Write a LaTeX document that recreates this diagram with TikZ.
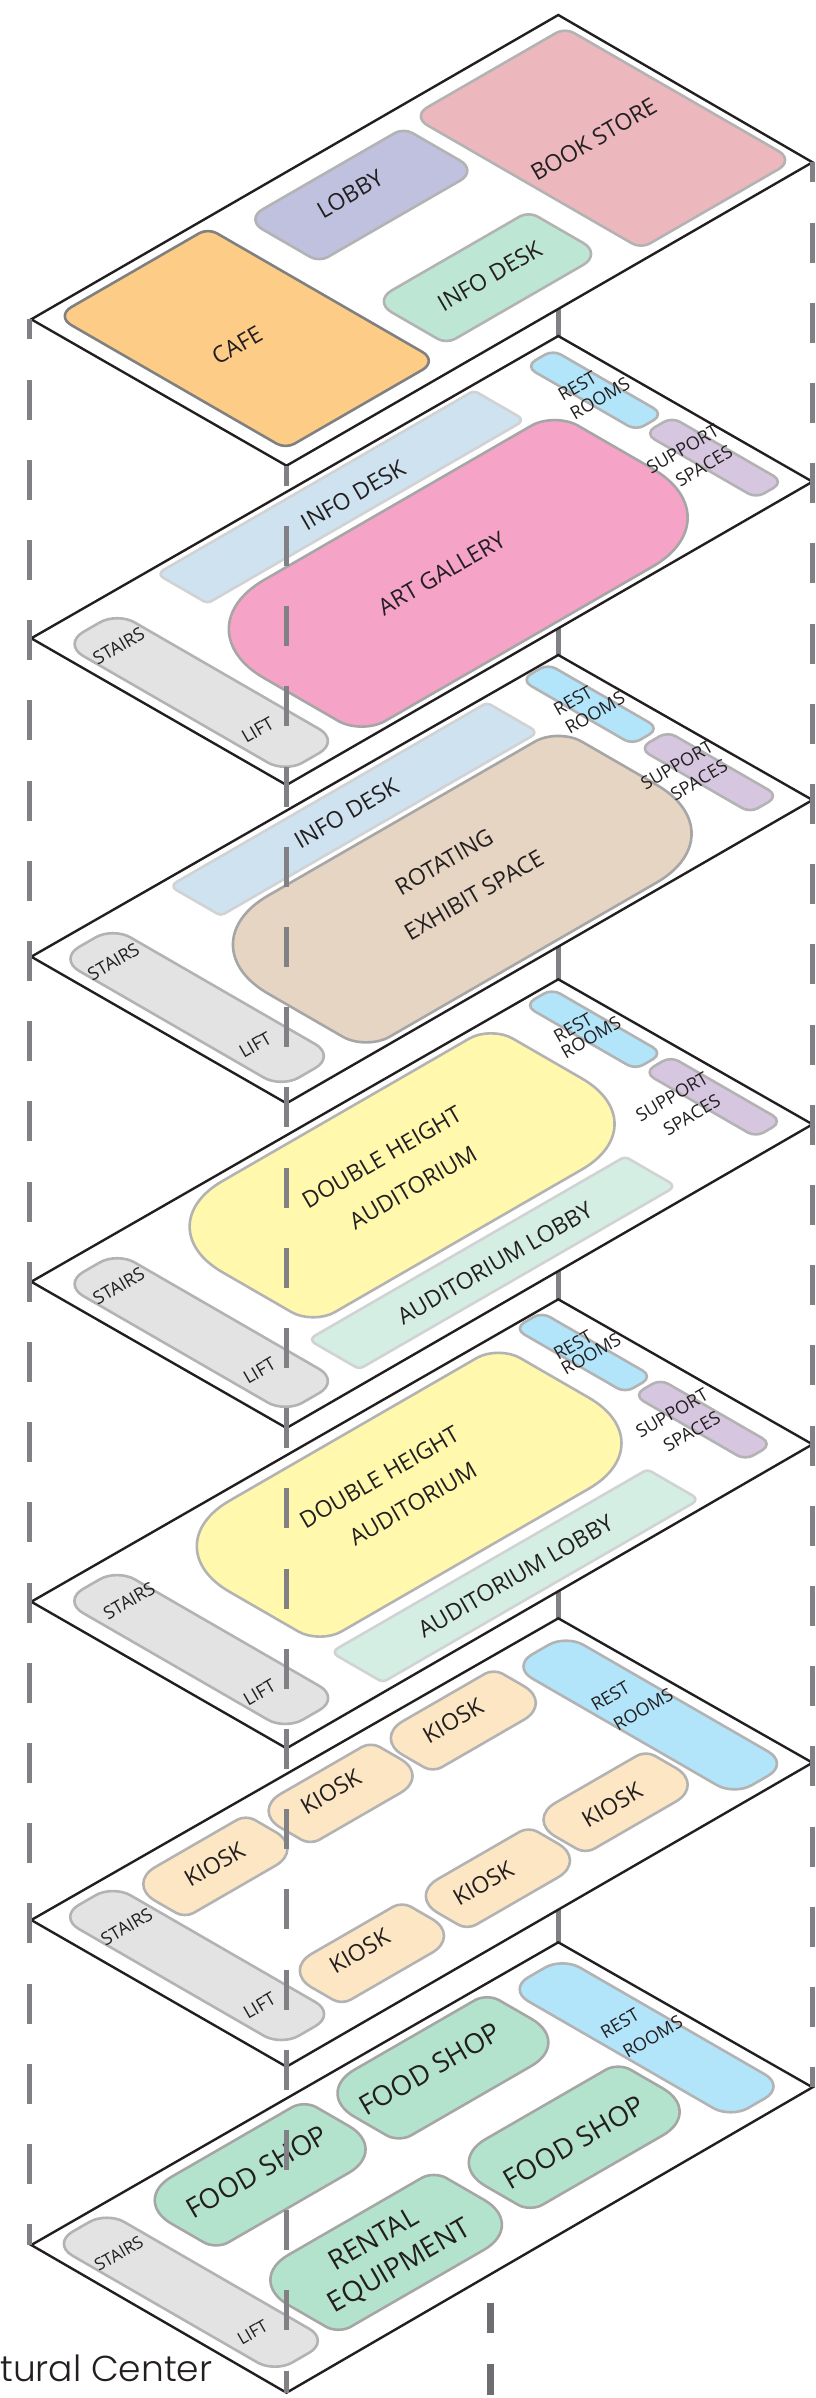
\documentclass[tikz,border=0pt]{standalone}
\usepackage{fontspec}
\setmainfont{Open Sans}
\newfontfamily\titlefont{Poppins Light}
\usetikzlibrary{calc}
\definecolor{ink}{HTML}{231F20}
\definecolor{dashgray}{HTML}{808085}
\definecolor{darkdash}{HTML}{6D6E71}
\definecolor{sA}{HTML}{B3B3B3}
\definecolor{sB}{HTML}{808080}
\definecolor{sC}{HTML}{A6A6A6}
\definecolor{sD}{HTML}{D0D2D3}
\definecolor{cafe}{HTML}{FDCD88}
\definecolor{book}{HTML}{ECB8BD}
\definecolor{lobby}{HTML}{BFC1DF}
\definecolor{infog}{HTML}{BEE6D4}
\definecolor{rest}{HTML}{B2E4FA}
\definecolor{supp}{HTML}{D7C6E0}
\definecolor{infob}{HTML}{CFE2F0}
\definecolor{art}{HTML}{F6A3C8}
\definecolor{stair}{HTML}{E3E3E3}
\definecolor{aud}{HTML}{FFF8AD}
\definecolor{audl}{HTML}{D5EEE3}
\definecolor{kiosk}{HTML}{FDE6C3}
\definecolor{food}{HTML}{B4E3CD}
\definecolor{exhib}{HTML}{E6D5C3}
\tikzset{
  plateline/.style={draw=ink,fill=white,line width=2.4pt,line join=miter},
  roomline/.style={line width=2.6pt,line join=round},
  dashcol/.style={draw=dashgray,line width=5pt,dash pattern=on 40pt off 40.2pt,dash phase=20pt},
  midcol/.style={draw=dashgray,line width=5pt},
  bottomdash/.style={draw=darkdash,line width=7pt},
  lab/.style={inner sep=0pt,rotate=30,text=ink,anchor=center},
}
% Lx Rx Ty By Tx rTB rLR fill stroke
\newcommand{\room}[9]{%
  \pgfmathsetmacro\rcx{(#1+#2)/2}%
  \pgfmathsetmacro\rcy{(#3+#4)/2}%
  \pgfmathsetmacro\rsm{((#4-#3+.586*#6)+((#2-#1)/1.732+.585*#7))/2}%
  \pgfmathsetmacro\rdf{(#5-\rcx)/.866}%
  \pgfmathsetmacro\rTx{\rcx+.866*\rdf}\pgfmathsetmacro\rTy{\rcy-.5*\rsm}%
  \pgfmathsetmacro\rRx{\rcx+.866*\rsm}\pgfmathsetmacro\rRy{\rcy-.5*\rdf}%
  \pgfmathsetmacro\rBx{\rcx-.866*\rdf}\pgfmathsetmacro\rBy{\rcy+.5*\rsm}%
  \pgfmathsetmacro\rLx{\rcx-.866*\rsm}\pgfmathsetmacro\rLy{\rcy+.5*\rdf}%
  \pgfmathsetmacro\rMx{(\rLx+\rTx)/2}\pgfmathsetmacro\rMy{(\rLy+\rTy)/2}%
  \draw[roomline,fill=#8,draw=#9]
    (\rMx,\rMy) [rounded corners=#6pt] -- (\rTx,\rTy) [rounded corners=#7pt] -- (\rRx,\rRy)
    [rounded corners=#6pt] -- (\rBx,\rBy) [rounded corners=#7pt] -- (\rLx,\rLy) [sharp corners] -- cycle;
}
\newcommand{\lbl}[5]{\node[lab] (#1) at (#2,#3) {\fontsize{#4}{#4}\selectfont #5};}
\newcommand{\plate}[5]{%
  \coordinate (T#1) at (558.3,#2);
  \coordinate (L#1) at (31.25,#3);
  \coordinate (B#1) at (286.5,#4);
  \coordinate (R#1) at (812.5,#5);
  \draw[plateline] (T#1) -- (R#1) -- (B#1) -- (L#1) -- cycle;
}
\begin{document}
\begin{tikzpicture}[x=1pt,y=-1pt]
\useasboundingbox (0,0) rectangle (816,2398);
\fill[white] (0,0) rectangle (816,2398);
% column behind the plates
\coordinate (m1) at (558.8,15);
\coordinate (m7) at (558.8,1942.3);
\draw[midcol] (m1) -- (m7);

\plate{1}{15}{319.3}{465.7}{162.3}
\room{65}{428.6}{231}{446}{208}{10}{18}{cafe}{sB}
\room{421}{785}{30.7}{245.7}{565}{10}{18}{book}{sA}
\room{255.7}{467}{130.7}{259.3}{403.6}{10}{20}{lobby}{sA}
\room{384}{591}{214.3}{341}{528.6}{10}{22}{infog}{sA}

\plate{2}{336}{638.3}{785}{481.7}
\room{531}{658}{352.7}{427.7}{553}{9}{12}{rest}{sA}
\room{650}{778}{420}{495.3}{672}{9}{12}{supp}{sA}
\room{162.5}{519}{390.7}{603.3}{474}{4}{8}{infob}{sD}
\room{229}{687.5}{420}{726.7}{554.7}{27}{98}{art}{sC}
\room{74.5}{328}{618.3}{766.7}{117.2}{20}{24}{stair}{sA}

\plate{3}{655}{956.7}{1103.3}{800}
\room{526.6}{653.6}{666.7}{741.7}{548}{9}{12}{rest}{sA}
\room{644.8}{773}{734.3}{810}{667.7}{9}{12}{supp}{sA}
\room{175.5}{532.3}{702.7}{915.7}{487}{4}{8}{infob}{sD}
\room{232.8}{691.7}{736}{1042.3}{558.3}{27}{98}{exhib}{sC}
\room{70.3}{324}{933.3}{1081.7}{113}{20}{24}{stair}{sA}

\plate{4}{979.3}{1281.7}{1428}{1124.3}
\room{530}{657.3}{991.7}{1066.7}{552}{9}{12}{rest}{sA}
\room{649.5}{777}{1059.3}{1134.3}{670.8}{9}{12}{supp}{sA}
\room{189.6}{614.6}{1033.3}{1317.3}{491}{25}{91}{aud}{sA}
\room{314}{670.3}{1156.7}{1369}{625}{4}{8}{audl}{sD}
\room{74.5}{328}{1258.3}{1406.7}{117.2}{20}{24}{stair}{sA}

\plate{5}{1299.3}{1601.7}{1748.3}{1444.3}
\room{519.8}{647}{1315}{1390}{541.7}{9}{12}{rest}{sA}
\room{639}{766.7}{1382}{1457.3}{660.4}{9}{12}{supp}{sA}
\room{196.9}{621.4}{1352.7}{1636.7}{498.4}{25}{91}{aud}{sA}
\room{337}{693.2}{1469.3}{1682.3}{647.4}{4}{8}{audl}{sD}
\room{74.5}{328}{1575}{1724}{117.2}{20}{24}{stair}{sA}

\plate{6}{1618.3}{1920}{2066.7}{1762.7}
\room{523.4}{777}{1640.7}{1789.3}{566}{20}{24}{rest}{sA}
\room{390.6}{536}{1671.7}{1769.3}{493.75}{10}{34}{kiosk}{sA}
\room{268.2}{413}{1745}{1841.7}{370.8}{10}{34}{kiosk}{sA}
\room{143.2}{287.5}{1817.7}{1915}{245.8}{10}{34}{kiosk}{sA}
\room{543.2}{688}{1753.7}{1850.7}{645.8}{10}{34}{kiosk}{sA}
\room{425.5}{570.3}{1829.7}{1926.7}{528.6}{10}{34}{kiosk}{sA}
\room{299.5}{444.3}{1904.7}{2001.7}{402}{10}{34}{kiosk}{sA}
\room{70.3}{324}{1891}{2040}{113}{20}{24}{stair}{sA}

\plate{7}{1942.3}{2245}{2392.7}{2087.3}
\room{519.8}{773.4}{1963.3}{2112.3}{562.5}{20}{24}{rest}{sA}
\room{337.5}{548.4}{1997.3}{2138.3}{487}{14}{47}{food}{sC}
\room{154.7}{365.6}{2104.3}{2245.3}{304.2}{14}{47}{food}{sC}
\room{468.75}{679.7}{2066.7}{2207.7}{618.2}{14}{47}{food}{sC}
\room{270.3}{502}{2175}{2329.7}{433.9}{14}{50}{food}{sC}
\room{64}{317.7}{2217.7}{2366.7}{106.8}{20}{24}{stair}{sA}

% labels
\lbl{a1}{593.75}{139.3}{23}{BOOK STORE}
\lbl{a2}{350}{194}{23}{LOBBY}
\lbl{a3}{489.6}{276}{23}{INFO DESK}
\lbl{a4}{237}{345}{23}{CAFE}

\lbl{b1}{353}{495}{23}{INFO DESK}
\lbl{b2}{577.3}{386}{18}{REST}
\lbl{b3}{600}{398.3}{18}{ROOMS}
\lbl{b4}{682.7}{449.3}{18}{SUPPORT}
\lbl{b5}{704}{466}{18}{SPACES}
\lbl{b6}{441.7}{573.3}{23}{ART GALLERY}
\lbl{b7}{118.75}{646}{18}{STAIRS}
\lbl{b8}{257.8}{730}{18}{LIFT}

\lbl{c1}{346.4}{813.3}{23}{INFO DESK}
\lbl{c2}{573}{700.7}{18}{REST}
\lbl{c3}{594.8}{712.7}{18}{ROOMS}
\lbl{c4}{677}{765}{18}{SUPPORT}
\lbl{c5}{699}{780}{18}{SPACES}
\lbl{c6}{444}{861.7}{23}{ROTATING}
\lbl{c7}{474}{895}{23}{EXHIBIT SPACE}
\lbl{c8}{113.5}{961.7}{18}{STAIRS}
\lbl{c9}{255.2}{1045}{18}{LIFT}

\lbl{d1}{573}{1027.7}{18}{REST}
\lbl{d2}{591}{1037.3}{18}{ROOMS}
\lbl{d3}{671.9}{1096.7}{18}{SUPPORT}
\lbl{d4}{691.7}{1115}{18}{SPACES}
\lbl{d5}{381.8}{1157.3}{23}{DOUBLE HEIGHT}
\lbl{d6}{413}{1187.3}{23}{AUDITORIUM}
\lbl{d7}{494.8}{1263.3}{23}{AUDITORIUM LOBBY}
\lbl{d8}{118.75}{1286}{18}{STAIRS}
\lbl{d9}{259.4}{1370.7}{18}{LIFT}

\lbl{e1}{573}{1345}{18}{REST}
\lbl{e2}{591}{1354}{18}{ROOMS}
\lbl{e3}{671.9}{1413.3}{18}{SUPPORT}
\lbl{e4}{691.7}{1431.7}{18}{SPACES}
\lbl{e5}{379.2}{1477.3}{23}{DOUBLE HEIGHT}
\lbl{e6}{413}{1504}{23}{AUDITORIUM}
\lbl{e7}{515.6}{1576}{23}{AUDITORIUM LOBBY}
\lbl{e8}{129.2}{1600.7}{18}{STAIRS}
\lbl{e9}{259.4}{1692.3}{18}{LIFT}

\lbl{f1}{610.4}{1696}{18}{REST}
\lbl{f2}{643.2}{1709.3}{18}{ROOMS}
\lbl{f3}{453}{1720.7}{23}{KIOSK}
\lbl{f4}{330.7}{1791.7}{23}{KIOSK}
\lbl{f5}{214.6}{1864.3}{23}{KIOSK}
\lbl{f6}{612}{1805}{23}{KIOSK}
\lbl{f7}{483.3}{1883.3}{23}{KIOSK}
\lbl{f8}{359.4}{1951}{23}{KIOSK}
\lbl{f9}{126.6}{1926.7}{18}{STAIRS}
\lbl{f10}{259.4}{2005.7}{18}{LIFT}

\lbl{g1}{619.8}{2023.3}{18}{REST}
\lbl{g2}{652.6}{2036.7}{18}{ROOMS}
\lbl{g3}{430}{2069}{27.5}{FOOD SHOP}
\lbl{g4}{257}{2171.7}{27.5}{FOOD SHOP}
\lbl{g5}{574}{2142.3}{27.5}{FOOD SHOP}
\lbl{g6}{373}{2238.3}{27.5}{RENTAL}
\lbl{g7}{400}{2266.7}{28}{EQUIPMENT}
\lbl{g8}{118.75}{2253.3}{17}{STAIRS}
\lbl{g9}{252.6}{2332.3}{17}{LIFT}

\node[inner sep=0pt,anchor=base west,text=ink] (title) at (0,2381.7) {\titlefont\fontsize{36}{36}\selectfont tural Center};

% dashed columns, on top of everything
\coordinate (dl1) at (29.7,319.3);
\coordinate (dl7) at (29.7,2245);
\coordinate (db1) at (286,465.7);
\coordinate (db7) at (286,2392.7);
\coordinate (dr1) at (812.5,162.3);
\coordinate (dr7) at (812.5,2087.3);
\draw[dashcol] (dl1) -- (dl7);
\draw[dashcol] (db1) -- (db7);
\draw[dashcol] (dr1) -- (dr7);
\coordinate (e1a) at (490,2302.7);
\coordinate (e1b) at (490,2333);
\coordinate (e2a) at (490,2364);
\coordinate (e2b) at (490,2395);
\draw[bottomdash] (e1a) -- (e1b);
\draw[bottomdash] (e2a) -- (e2b);
\end{tikzpicture}
\end{document}
